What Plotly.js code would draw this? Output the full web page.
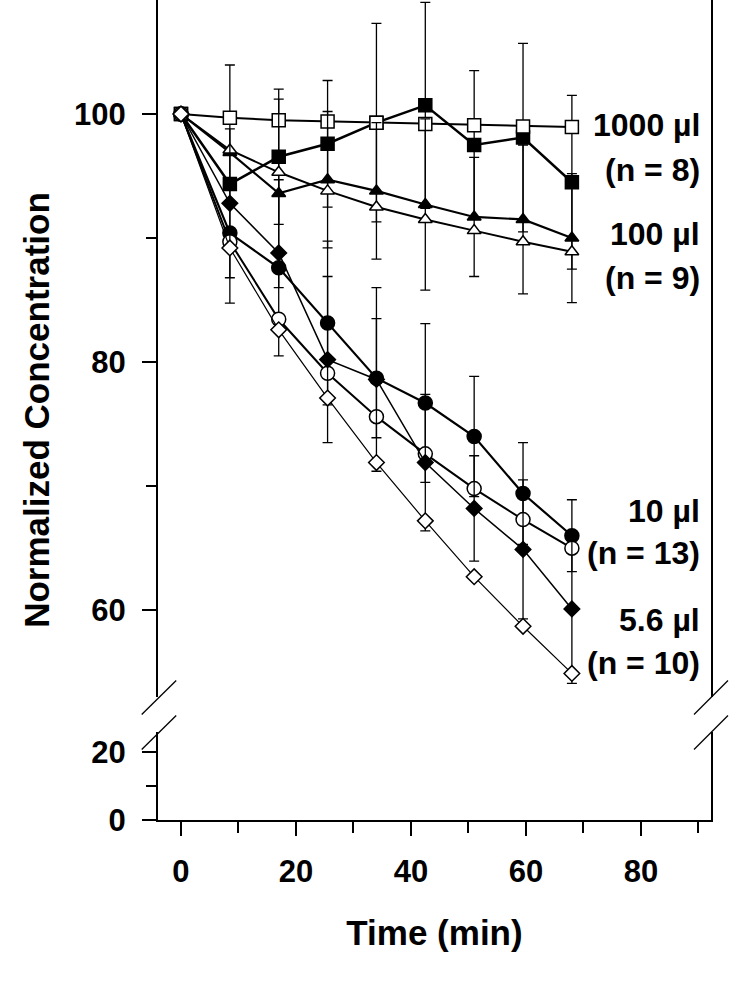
<!DOCTYPE html>
<html>
<head>
<meta charset="utf-8">
<script src="https://cdn.plot.ly/plotly-3.0.1.min.js"></script>
<style>
  html, body { margin: 0; padding: 0; background: #fff; }
  #chart { width: 756px; height: 984px; }
</style>
</head>
<body>
<div id="chart"></div>
<script>
// ---- data ----
const time = [0, 8.5, 17, 25.5, 34, 42.5, 51, 59.5, 68];

const sq1000Filled   = [100, 94.35, 96.55, 97.6, 99.3, 100.7, 97.5, 98.1, 94.5];
const sq1000FilledSD = [null, 9.6, 5.45, 5.1, 8.0, 8.3, 6.0, 7.6, 7.0];
const sq1000Open     = [100, 99.7, 99.5, 99.4, 99.3, 99.2, 99.1, 99.0, 98.95];

const tri100Filled   = [100, 96.9, 93.6, 94.7, 93.8, 92.7, 91.7, 91.5, 90.0];
const tri100FilledSD = [null, null, 7.6, 5.5, 5.5, 6.9, 4.8, 6.0, 5.2];
const tri100Open     = [100, 97.1, 95.3, 93.8, 92.5, 91.5, 90.6, 89.7, 88.9];

const circ10Filled   = [100, 90.4, 87.6, 83.15, 78.7, 76.7, 74.0, 69.4, 66.0];
const circ10FilledSD = [null, null, 7.1, 6.6, 4.8, 6.4, 4.85, 4.1, 2.9];
const circ10Open     = [100, 89.7, 83.45, 79.1, 75.6, 72.6, 69.8, 67.3, 65.0];

const dia56Filled    = [100, 92.8, 88.8, 80.2, 78.6, 71.9, 68.2, 64.9, 60.1];
const dia56FilledSD  = [null, 6.0, null, 6.7, 7.4, 5.5, 4.25, 5.6, 6.0];
const dia56Open      = [100, 89.2, 82.6, 77.1, 71.9, 67.2, 62.7, 58.7, 54.9];

const groupLabels = ["1000 µl", "(n = 8)", "100 µl", "(n = 9)", "10 µl", "(n = 13)", "5.6 µl", "(n = 10)"];
const labelY      = [99.1, 95.5, 90.35, 86.8, 68.0, 64.6, 59.2, 55.75];

const xTitle = "Time (min)";
const yTitle = "Normalized Concentration";

// ---- styling helpers ----
const FONT = "Liberation Sans, Arial, Helvetica, sans-serif";
const nanify = a => a.map(v => (v === null ? NaN : v));

function series(y, sd, symbol, size, filled, lineWidth) {
  const t = {
    type: "scatter", mode: "lines+markers",
    x: time, y: y, xaxis: "x", yaxis: "y2",
    line: { color: "#000", width: lineWidth },
    marker: {
      symbol: symbol, size: size,
      color: filled ? "#000" : "#fff",
      line: { color: "#000", width: 1.5 }
    },
    showlegend: false, hoverinfo: "x+y"
  };
  if (sd) {
    t.error_y = { type: "data", array: nanify(sd), visible: true,
                  color: "#000", thickness: 1.3, width: 5 };
  }
  return t;
}

const traces = [
  // empty carrier so the lower (0-26) panel and its x axis are drawn
  { type: "scatter", mode: "markers", x: [null], y: [null], xaxis: "x", yaxis: "y",
    showlegend: false, hoverinfo: "skip" },
  series(sq1000Filled, sq1000FilledSD, "square", 13, true, 2.5),
  series(sq1000Open, null, "square", 13, false, 2),
  series(tri100Filled, tri100FilledSD, "triangle-up", 12, true, 2.2),
  series(tri100Open, null, "triangle-up", 12, false, 2),
  series(circ10Filled, circ10FilledSD, "circle", 14, true, 2.2),
  series(circ10Open, null, "circle", 14, false, 2),
  series(dia56Filled, dia56FilledSD, "diamond", 12, true, 1.5),
  series(dia56Open, null, "diamond", 12, false, 1.2),
  // carrier for the full-height y title
  { type: "scatter", mode: "markers", x: [null], y: [null], xaxis: "x", yaxis: "y3",
    showlegend: false, hoverinfo: "skip" }
];

// plot area in px: left 158, right 711, top 0, bottom 820
const L = 158, R = 711, B = 820, W = 756, H = 984;
const pw = R - L, ph = B;
const px = v => (v - L) / pw;
const py = v => (B - v) / ph;

const axisCommon = {
  showline: true, linecolor: "#000", linewidth: 2,
  ticks: "outside", ticklen: 14, tickwidth: 2, tickcolor: "#000",
  showgrid: false, zeroline: false,
  tickfont: { family: FONT, size: 31, color: "#000", weight: "bold" }
};

function brk(x0, y0, x1, y1) {
  return { type: "line", xref: "paper", yref: "paper",
           x0: px(x0), y0: py(y0), x1: px(x1), y1: py(y1),
           line: { color: "#000", width: 1.3 } };
}

const annotations = groupLabels.map((txt, i) => ({
  text: txt, xref: "x", yref: "y2", x: 90.6, y: labelY[i],
  xanchor: "right", yanchor: "middle", showarrow: false,
  font: { family: FONT, size: 32, color: "#000", weight: "bold" }
}));

const layout = {
  width: W, height: H,
  margin: { l: L, r: W - R, t: 0, b: H - B, pad: 0 },
  paper_bgcolor: "#fff", plot_bgcolor: "rgba(0,0,0,0)",
  showlegend: false,
  xaxis: Object.assign({}, axisCommon, {
    anchor: "y", range: [-4, 92.2], tick0: 0, dtick: 20,
    minor: { dtick: 10, tick0: 0, ticks: "outside", ticklen: 11, tickwidth: 2, tickcolor: "#000" },
    ticklabelstandoff: 9,
    title: { text: xTitle, standoff: 32,
             font: { family: FONT, size: 35, color: "#000", weight: "bold" } }
  }),
  yaxis: Object.assign({}, axisCommon, {
    anchor: "x", domain: [0, py(732)], range: [0, 25.9], tick0: 0, dtick: 20,
    mirror: true, ticklabelstandoff: 10,
    minor: { dtick: 10, tick0: 0, ticks: "outside", ticklen: 10, tickwidth: 2, tickcolor: "#000" }
  }),
  yaxis2: Object.assign({}, axisCommon, {
    anchor: "x", domain: [py(697), 1], range: [53, 109.19], tick0: 0, dtick: 20,
    mirror: true, ticklabelstandoff: 10,
    minor: { dtick: 10, tick0: 0, ticks: "outside", ticklen: 10, tickwidth: 2, tickcolor: "#000" }
  }),
  yaxis3: {
    anchor: "free", position: 0, domain: [0, 1], range: [0, 1],
    showline: false, showgrid: false, zeroline: false, ticks: "",
    showticklabels: false, fixedrange: true,
    title: { text: yTitle, standoff: 96,
             font: { family: FONT, size: 35, color: "#000", weight: "bold" } }
  },
  shapes: [
    brk(141.7, 714.5, 176.2, 680.5),
    brk(141.7, 749.5, 176.2, 715.5),
    brk(694, 714.5, 728, 680.5),
    brk(694, 749.5, 728, 715.5)
  ],
  annotations: annotations
};

Plotly.newPlot("chart", traces, layout, { displayModeBar: false, staticPlot: true });
</script>
</body>
</html>
